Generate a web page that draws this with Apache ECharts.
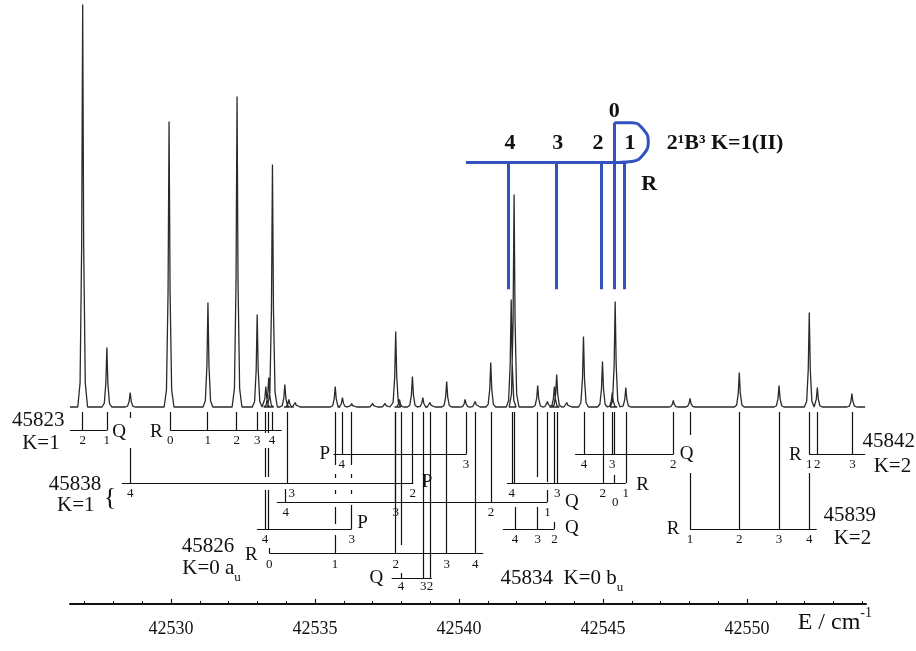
<!DOCTYPE html>
<html>
<head>
<meta charset="utf-8">
<title>2¹B³ K=1(II) rotational assignment</title>
<script src="https://cdn.jsdelivr.net/npm/echarts@6/dist/echarts.min.js"></script>
<style>
  html, body { margin: 0; padding: 0; background: #fff; }
  #chart { width: 916px; height: 651px; }
</style>
</head>
<body>
<div id="chart"></div>
<script>
// ---- values (wavenumbers in cm-1, intensities in arbitrary units) ----
const peakPos = [42526.93, 42527.77, 42528.58, 42529.93, 42531.28, 42532.29, 42532.99, 42533.29, 42533.39, 42533.52,
  42533.95, 42534.09, 42534.31, 42535.70, 42535.95, 42536.27, 42537.00, 42537.43, 42537.80, 42537.93,
  42538.38, 42538.74, 42538.99, 42539.57, 42540.21, 42540.56, 42541.10, 42541.81, 42541.91, 42542.73,
  42543.07, 42543.31, 42543.39, 42543.74, 42544.32, 42544.98, 42545.32, 42545.42, 42545.79, 42547.44,
  42548.02, 42549.73, 42551.11, 42552.16, 42552.44, 42553.64]
const peakHeight = [402.5, 59.5, 14.5, 285.5, 104.5, 310.5, 92.5, 20.5, 29.5, 242.5,
  22.5, 7.5, 4.5, 20.5, 9.5, 3.5, 3.5, 3.5, 75.5, 7.5,
  30.5, 9.5, 4.5, 25.5, 7.5, 5.5, 44.5, 107.5, 212.5, 21.5,
  5.5, 20.5, 32.5, 4.5, 70.5, 45.5, 14.5, 105.5, 19.5, 6.5,
  8.5, 34.5, 21.5, 94.5, 19.5, 13.5]

// assigned lines, one array per branch, with the J labels printed under them
const q45823 = [42526.93, 42527.77]
const q45823J = ['2', '1']
const r45823 = [42529.97, 42531.27, 42532.28, 42532.99, 42533.50]
const r45823J = ['0', '1', '2', '3', '4']
const p45838 = [42528.58, 42534.02, 42538.39]
const p45838J = ['4', '3', '2']
const r45838 = [42541.83, 42541.92, 42543.31, 42543.41, 42544.99, 42545.39, 42545.79]
const r45838J = ['4', '', '', '3', '2', '', '1']
const q45838 = [42533.98, 42537.80, 42541.11, 42543.07]
const q45838J = ['4', '3', '2', '1']
const pB = [42535.93, 42540.24]
const pBJ = ['4', '3']
const qB = [42544.34, 42545.32, 42545.39, 42547.44]
const qBJ = ['4', '3', '', '2']
const r45842 = [42552.16, 42552.44, 42553.66]
const r45842J = ['1', '2', '3']
const p45826 = [42533.26, 42533.38, 42536.27]
const p45826J = ['4', '', '3']
const q45834 = [42541.94, 42542.73, 42543.31]
const q45834J = ['4', '3', '2']
const r45839 = [42548.02, 42549.73, 42551.11, 42552.16]
const r45839J = ['1', '2', '3', '4']
const r45826 = [42533.41, 42535.69, 42537.80, 42539.57, 42540.56]
const r45826J = ['0', '1', '2', '3', '4']
const q45826 = [42537.98, 42538.76, 42538.99]
const q45826J = ['4', '3', '2']

// blue 2¹B³ K=1(II) R branch
const bluePos = [42541.71, 42543.39, 42544.92, 42545.39, 42545.74]
const blueJ = ['4', '3', '2', '0', '1']

const majorTicks = [42530, 42535, 42540, 42545, 42550]
const minorTicks = [42527, 42528, 42529, 42530, 42531, 42532, 42533, 42534, 42535, 42536,
  42537, 42538, 42539, 42540, 42541, 42542, 42543, 42544, 42545, 42546,
  42547, 42548, 42549, 42550, 42551, 42552, 42553, 42554]

// ---- layout ----
const INK = '#111'
const BLUE = '#3452bd'
const SERIF = "'Liberation Serif', 'Times New Roman', serif"
const X_MIN = 42526.49
const X_MAX = 42554.13
const LINE_TOP = -5 // assignment lines start just under the baseline
const ROW = { A: -23.5, B: -47.5, C: -76, D: -95, E: -122, F: -146, G: -171 }

const ladders = [
  { pos: q45823, J: q45823J, row: ROW.A, span: [42526.49, 42527.77], letter: 'Q', side: 'right', gap: 5, dy: 1.5 },
  { pos: r45823, J: r45823J, row: ROW.A, span: [42529.97, 42533.84], letter: 'R', side: 'left', gap: 7, dy: 1.5 },
  { pos: p45838, J: p45838J, row: ROW.C, span: [42528.29, 42538.41], letter: 'P', side: 'right', gap: 8, dy: -1,
    gaps: { 0: [[-11, -41]] }, jdx: { 1: 5 } },
  { pos: r45838, J: r45838J, row: ROW.C, span: [42541.66, 42545.79], letter: 'R', side: 'right', gap: 10, dy: 2,
    tops: { 5: -68 } },
  { pos: q45838, J: q45838J, row: ROW.D, span: [42533.67, 42543.07], letter: 'Q', side: 'right', gap: 17, dy: 0,
    tops: { 0: -82 }, gaps: { 3: [[-75, -83]] } },
  { pos: pB, J: pBJ, row: ROW.B, span: [42535.64, 42540.24], letter: 'P', side: 'left', gap: 3, dy: 0 },
  { pos: qB, J: qBJ, row: ROW.B, span: [42544.03, 42547.44], letter: 'Q', side: 'right', gap: 6, dy: 0 },
  { pos: r45842, J: r45842J, row: ROW.B, span: [42552.16, 42554.10], letter: 'R', side: 'left', gap: 7, dy: 1 },
  { pos: p45826, J: p45826J, row: ROW.E, span: [42532.98, 42536.27], letter: 'P', side: 'right', gap: 5, dy: -6,
    gaps: { 0: [[-26, -41], [-70, -83]], 1: [[-26, -41], [-70, -83]], 2: [[-58, -67], [-71, -83], [-87, -98]] } },
  { pos: q45834, J: q45834J, row: ROW.E, span: [42541.52, 42543.31], letter: 'Q', side: 'right', gap: 10, dy: -1,
    tops: { 0: -100, 2: -115 }, gaps: { 1: [[-70, -100]] } },
  { pos: r45839, J: r45839J, row: ROW.E, span: [42548.02, 42552.42], letter: 'R', side: 'left', gap: 10, dy: 0,
    tops: { 3: -66 }, gaps: { 0: [[-28, -66]] } },
  { pos: r45826, J: r45826J, row: ROW.F, span: [42533.41, 42540.84], letter: 'R', side: 'left', gap: 11, dy: 2, jdy: 12,
    tops: { 0: -141 }, gaps: { 1: [[-58, -67], [-71, -83], [-87, -100], [-117, -128]] } },
  { pos: q45826, J: q45826J, row: ROW.G, span: [42537.66, 42539.05], letter: 'Q', side: 'left', gap: 8, dy: 0, jdy: 8.5,
    gaps: { 0: [[-138, -166]] } }
]

// the R(0) label of 45838 sits lower than the others
const extraJ = [
  { at: [42545.42, -96], text: '0' }
]

const bandText = [
  { at: [42526.32, -13], text: '45823', side: 'left' },
  { at: [42526.15, -36], text: 'K=1', side: 'left' },
  { at: [42527.59, -77], text: '45838', side: 'left' },
  { at: [42527.36, -98], text: 'K=1', side: 'left' },
  { at: [42530.35, -139], text: '45826', side: 'right' },
  { at: [42530.37, -161], text: 'K=0 a{s|u}', side: 'right' },
  { at: [42541.42, -171], text: '45834  K=0 b{s|u}', side: 'right' },
  { at: [42552.64, -108], text: '45839', side: 'right' },
  { at: [42552.99, -131], text: 'K=2', side: 'right' },
  { at: [42553.99, -34.7], text: '45842', side: 'right' },
  { at: [42554.38, -59.7], text: 'K=2', side: 'right' },
  { at: [42551.74, -216], text: '{e|E / cm}{p|-1}', side: 'right' }
]

const BLUE_H = 244.7 // horizontal bar of the blue ladder
const BLUE_LOW = 117.7 // lower end of its sticks
const blueLoop = [[42545.39, 284.3], [42546.0, 284.3], [42546.40, 277.5], [42546.57, 265.3],
  [42546.40, 252.5], [42546.0, 245.5], [42545.6, 244.7]]
const blueDx = [1.7, 1, -2.7, 0, 5.7]

// ---- build ----
function spectrum () {
  const dx = [-0.17, -0.09, -0.035, 0, 0.035, 0.09, 0.17]
  const fr = [0, 0.06, 0.4, 1, 0.4, 0.06, 0]
  const pts = [[X_MIN, 0]]
  peakPos.forEach((p, i) => {
    dx.forEach((d, k) => pts.push([p + d, peakHeight[i] * fr[k]]))
  })
  pts.push([42554.10, 0])
  return pts
}

function ladderSegments () {
  const segs = []
  ladders.forEach(L => {
    segs.push({ coords: [[L.span[0], L.row], [L.span[1], L.row]] })
    L.pos.forEach((x, i) => {
      let y = (L.tops && L.tops[i] !== undefined) ? L.tops[i] : LINE_TOP
      const gaps = (L.gaps && L.gaps[i]) || []
      gaps.forEach(g => {
        segs.push({ coords: [[x, y], [x, g[0]]] })
        y = g[1]
      })
      segs.push({ coords: [[x, y], [x, L.row]] })
    })
  })
  return segs
}

function jLabels () {
  const out = []
  ladders.forEach(L => {
    L.J.forEach((t, i) => {
      if (!t) return
      const dx = (L.jdx && L.jdx[i]) || 0
      out.push({ value: [L.pos[i], L.row - (L.jdy || 10.5)], text: t, label: { offset: [dx, 0] } })
    })
  })
  extraJ.forEach(e => out.push({ value: e.at, text: e.text }))
  return out
}

function letters () {
  return ladders.map(L => ({
    value: [L.side === 'right' ? L.span[1] : L.span[0], L.row],
    text: L.letter,
    label: { position: L.side, distance: L.gap, offset: [0, L.dy] }
  }))
}

function blueSegments () {
  const segs = [{ coords: [[42540.24, BLUE_H], [42545.82, BLUE_H]] }]
  bluePos.forEach((x, i) => {
    const top = blueJ[i] === '0' ? blueLoop[0][1] : BLUE_H
    segs.push({ coords: [[x, top], [x, BLUE_LOW]] })
  })
  return segs
}

function blueLabels () {
  const out = bluePos.map((x, i) => blueJ[i] === '0'
    ? { value: [x, 295.3], text: '0' }
    : { value: [x, 264], text: blueJ[i], label: { offset: [blueDx[i], 0] } })
  out.push({ value: [42546.60, 223], text: 'R' })
  out.push({ value: [42547.19, 264], text: '2¹B³ K=1(II)', label: { position: 'right', distance: 0 } })
  return out
}

function textSeries (data, label) {
  return {
    type: 'scatter',
    data: data,
    symbol: 'circle',
    symbolSize: 1,
    itemStyle: { color: 'rgba(0,0,0,0)', opacity: 1 },
    clip: false,
    silent: true,
    z: 6,
    label: Object.assign({
      show: true,
      position: 'inside',
      formatter: p => p.data.text,
      color: INK,
      opacity: 1,
      fontFamily: SERIF
    }, label)
  }
}

const chart = echarts.init(document.getElementById('chart'))
const option = {
  animation: false,
  grid: { left: 70, right: 50, top: 0, bottom: 47 },
  xAxis: [
    {
      type: 'value',
      min: X_MIN,
      max: X_MAX,
      position: 'bottom',
      axisLine: { onZero: false, lineStyle: { color: INK, width: 2 } },
      axisTick: { inside: true, length: 5, customValues: majorTicks, lineStyle: { color: INK, width: 1.2 } },
      axisLabel: { customValues: majorTicks, margin: 16, fontFamily: SERIF, fontSize: 18, color: INK, formatter: v => String(v) },
      splitLine: { show: false }
    },
    {
      type: 'value',
      min: X_MIN,
      max: X_MAX,
      position: 'bottom',
      axisLine: { show: false, onZero: false },
      axisTick: { inside: true, length: 3, customValues: minorTicks, lineStyle: { color: INK, width: 1 } },
      axisLabel: { show: false },
      splitLine: { show: false }
    }
  ],
  yAxis: { type: 'value', min: -197, max: 407, show: false },
  series: [
    {
      type: 'line',
      data: spectrum(),
      showSymbol: false,
      symbol: 'none',
      silent: true,
      lineStyle: { color: '#2a2a2a', width: 1.3 },
      z: 2
    },
    {
      type: 'lines',
      coordinateSystem: 'cartesian2d',
      data: ladderSegments(),
      silent: true,
      lineStyle: { color: INK, width: 1.2, opacity: 1 },
      z: 3
    },
    {
      type: 'lines',
      coordinateSystem: 'cartesian2d',
      data: blueSegments(),
      silent: true,
      lineStyle: { color: BLUE, width: 3, opacity: 1 },
      z: 4
    },
    {
      type: 'line',
      data: blueLoop,
      smooth: 0.5,
      showSymbol: false,
      symbol: 'none',
      silent: true,
      lineStyle: { color: BLUE, width: 3 },
      z: 4
    },
    textSeries(jLabels(), { fontSize: 13 }),
    textSeries(letters(), { fontSize: 19 }),
    textSeries(bandText.map(b => ({ value: b.at, text: b.text, label: { position: b.side, distance: 0 } })), {
      fontSize: 21,
      lineHeight: 32,
      rich: {
        s: { fontSize: 13, lineHeight: 13, verticalAlign: 'bottom', fontFamily: SERIF, color: INK },
        e: { fontSize: 24, lineHeight: 34, fontFamily: SERIF, color: INK },
        p: { fontSize: 14, lineHeight: 14, verticalAlign: 'top', fontFamily: SERIF, color: INK }
      }
    }),
    textSeries([{ value: [42527.88, -91], text: '{' }], { fontSize: 26 }),
    textSeries(blueLabels(), { fontSize: 22, fontWeight: 'bold', color: INK })
  ]
}
chart.setOption(option)
</script>
</body>
</html>
